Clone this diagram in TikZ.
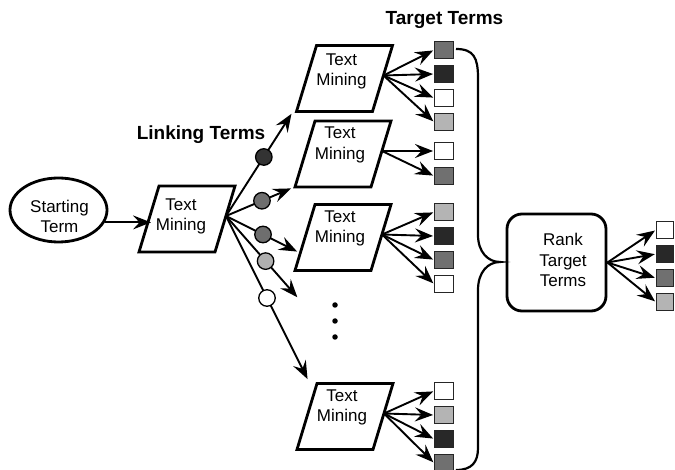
\documentclass[tikz,border=0pt]{standalone}
\usepackage{fontspec}
\setmainfont{Liberation Sans}
\usetikzlibrary{arrows.meta,shapes.geometric}
\definecolor{sqmid}{HTML}{707070}
\definecolor{sqdark}{HTML}{282828}
\definecolor{sqlight}{HTML}{B4B4B4}
\definecolor{cdark}{HTML}{333333}
\definecolor{cmid}{HTML}{6E6E6E}
\definecolor{clight}{HTML}{B0B0B0}
\begin{document}
\begin{tikzpicture}[x=1pt,y=-1pt,
  txt/.style={font=\fontsize{17}{20.5}\selectfont, align=center, inner sep=0},
  lbl/.style={font=\fontsize{19}{22}\selectfont\bfseries, inner sep=0},
  shapeline/.style={line width=2.8pt, line join=miter},
  arr/.style={line width=1.9pt, shorten >=1pt, -{Stealth[length=18pt,width=14pt,inset=6.5pt]}},
  sq/.style={draw=black!85, line width=1.4pt, minimum width=18.5pt, minimum height=16.5pt, inner sep=0},
  rsq/.style={sq, minimum width=17pt, minimum height=17pt},
  lt/.style={circle, draw, line width=1.3pt, minimum size=16.5pt, inner sep=0},
  dotn/.style={circle, fill, minimum size=5.5pt, inner sep=0},
  tmbox/.pic={
    \draw[shapeline] (-28,-33) -- (48,-33) -- (28,33) -- (-48,33) -- cycle;
    \node[txt] (-t) at (#1) {Text\\Mining};
    \coordinate (-o) at (39,-3);
  }]
\useasboundingbox (0,0) rectangle (675,470);

% starting term
\node[ellipse, draw, shapeline, minimum width=97pt, minimum height=64pt] (st) at (58.5,210) {};
\node[txt] (stt) at (59.5,216.5) {Starting\\Term};

% text mining boxes
\pic (tm1) at (187,219) {tmbox={-6,-2.5}};
\pic (tma) at (344.5,78.5) {tmbox={-3,-7}};
\pic (tmb) at (343,154) {tmbox={-3,-9}};
\pic (tmc) at (343,237.5) {tmbox={-3,-9}};
\pic (tmd) at (345,416.5) {tmbox={-3,-9}};

\coordinate (tm1in) at (152,219);
\draw[arr] (st.-15) -- (st.-15 -| tm1in);

% labels
\node[lbl] (lk) at (201,135) {Linking Terms};
\node[lbl] (tt) at (444.5,20) {Target Terms};

% linking terms
\coordinate (t1) at (292,113);
\coordinate (t2) at (292,188);
\coordinate (t3) at (298,252);
\coordinate (t4) at (298,298);
\coordinate (t5) at (308,380);
\draw[arr] (tm1-o) -- (t1) node[pos=0.573, lt, fill=cdark] (l1) {};
\draw[arr] (tm1-o) -- (t2) node[pos=0.545, lt, fill=cmid] (l2) {};
\draw[arr] (tm1-o) -- (t3) node[pos=0.514, lt, fill=cmid] (l3) {};
\draw[arr] (tm1-o) -- (t4) node[pos=0.55, lt, fill=clight] (l4) {};
\draw[arr] (tm1-o) -- (t5) node[pos=0.5, lt, fill=white] (l5) {};

% dots
\node[dotn] (d1) at (335,305) {};
\node[dotn] (d2) at (335,321) {};
\node[dotn] (d3) at (335,337) {};

% target term squares
\node[sq, fill=sqmid]   (s1) at (444,50) {};
\node[sq, fill=sqdark]  (s2) at (444,74) {};
\node[sq, fill=white]   (s3) at (444,98) {};
\node[sq, fill=sqlight] (s4) at (444,122) {};
\node[sq, fill=white]   (s5) at (444,151) {};
\node[sq, fill=sqmid]   (s6) at (444,176) {};
\node[sq, fill=sqlight] (s7) at (444,212) {};
\node[sq, fill=sqdark]  (s8) at (444,236) {};
\node[sq, fill=sqmid]   (s9) at (444,260) {};
\node[sq, fill=white]   (s10) at (444,284) {};
\node[sq, fill=white]   (s11) at (444,391) {};
\node[sq, fill=sqlight] (s12) at (444,415) {};
\node[sq, fill=sqdark]  (s13) at (444,439) {};
\node[sq, fill=sqmid]   (s14) at (444,463) {};

\foreach \s in {s1,s2,s3,s4} \draw[arr] (tma-o) -- (\s.west);
\foreach \s in {s5,s6} \draw[arr] (tmb-o) -- (\s.west);
\foreach \s in {s7,s8,s9,s10} \draw[arr] (tmc-o) -- (\s.west);
\foreach \s in {s11,s12,s13,s14} \draw[arr] (tmd-o) -- (\s.west);

% brace
\draw[line width=2.2pt] (456,49) .. controls (474,49) and (478,58) .. (478,78)
  -- (478,235) .. controls (478,252) and (488,262) .. (500,262)
  .. controls (488,262) and (478,272) .. (478,290)
  -- (478,448) .. controls (478,462) and (472,470) .. (456,470);

% rank
\node[draw, shapeline, rounded corners=15pt, minimum width=99pt, minimum height=97pt] (rk) at (556.5,262.5) {};
\node[txt] (rkt) at (563,260) {Rank\\Target\\Terms};

\node[rsq, fill=white]   (r1) at (665,230) {};
\node[rsq, fill=sqdark]  (r2) at (665,254) {};
\node[rsq, fill=sqmid]   (r3) at (665,278) {};
\node[rsq, fill=sqlight] (r4) at (665,302) {};
\foreach \s in {r1,r2,r3,r4} \draw[arr] (rk.east) -- (\s.west);
\end{tikzpicture}
\end{document}
